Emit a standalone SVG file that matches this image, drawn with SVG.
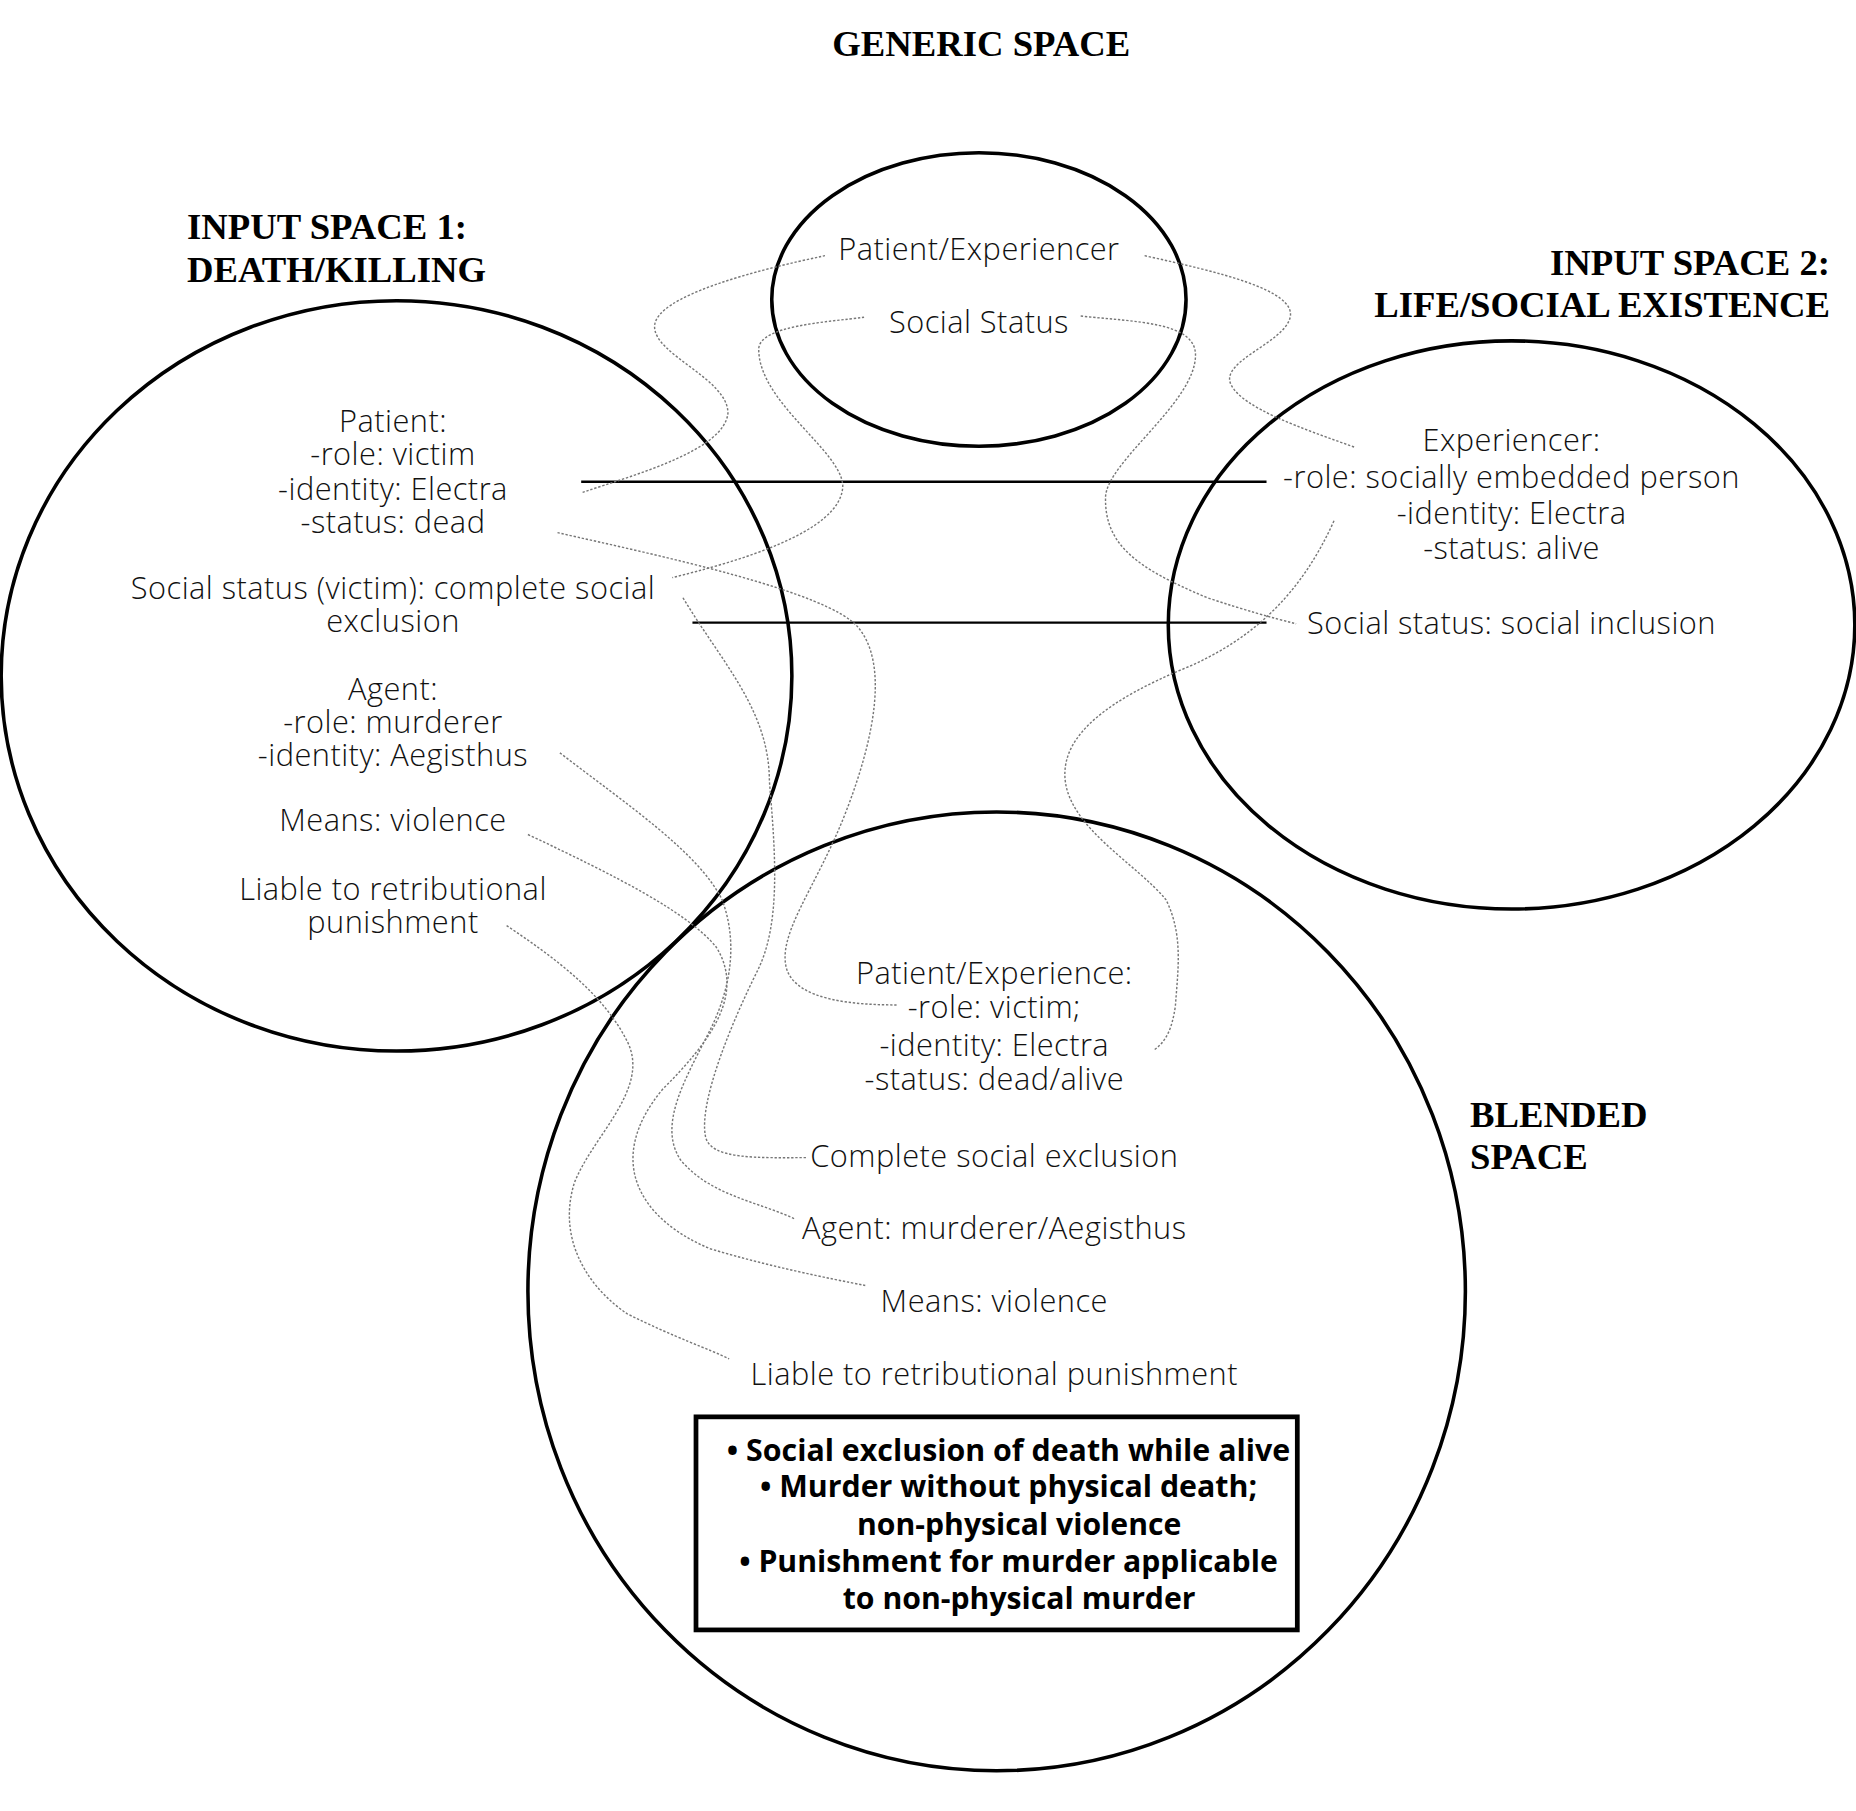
<svg xmlns="http://www.w3.org/2000/svg" width="1856" height="1811" viewBox="0 0 1856 1811">
<style>
.sp{fill:none;stroke:#000;stroke-width:3}
.t{font-family:"Open Sans","Noto Sans",sans-serif;font-weight:300;font-size:26px;letter-spacing:0.4px;fill:#111;text-anchor:middle}
.h{font-family:"Liberation Serif",serif;font-weight:bold;font-size:31px;fill:#000}
.b{font-family:"Open Sans","Noto Sans",sans-serif;font-weight:700;font-size:25px;fill:#000;text-anchor:middle}
.c{fill:none;stroke:#777;stroke-width:1.2;stroke-dasharray:2 1.5}
.l{stroke:#000;stroke-width:2}
</style>
<rect width="1856" height="1811" fill="#fff"/>
<g transform="scale(1.18367)">
<g id="generic">
<text class="h" x="829" y="47" text-anchor="middle">GENERIC SPACE</text>
<ellipse class="sp" cx="827" cy="253" rx="175" ry="124"/>
<text class="t" x="827" y="220">Patient/Experiencer</text>
<text class="t" x="827" y="281">Social Status</text>
</g>
<g id="input1">
<text class="h" x="158" y="202">INPUT SPACE 1:</text>
<text class="h" x="158" y="238">DEATH/KILLING</text>
<ellipse class="sp" cx="335" cy="571" rx="334" ry="317"/>
<text class="t" x="332" y="365">Patient:</text>
<text class="t" x="332" y="393">-role: victim</text>
<text class="t" x="332" y="422">-identity: Electra</text>
<text class="t" x="332" y="450">-status: dead</text>
<text class="t" x="332" y="506">Social status (victim): complete social</text>
<text class="t" x="332" y="534">exclusion</text>
<text class="t" x="332" y="591">Agent:</text>
<text class="t" x="332" y="619">-role: murderer</text>
<text class="t" x="332" y="647">-identity: Aegisthus</text>
<text class="t" x="332" y="702">Means: violence</text>
<text class="t" x="332" y="760">Liable to retributional</text>
<text class="t" x="332" y="788">punishment</text>
</g>
<g id="input2">
<text class="h" x="1546" y="232" text-anchor="end">INPUT SPACE 2:</text>
<text class="h" x="1546" y="268" text-anchor="end">LIFE/SOCIAL EXISTENCE</text>
<ellipse class="sp" cx="1277" cy="528" rx="290" ry="240"/>
<text class="t" x="1277" y="381">Experiencer:</text>
<text class="t" x="1277" y="412">-role: socially embedded person</text>
<text class="t" x="1277" y="443">-identity: Electra</text>
<text class="t" x="1277" y="472">-status: alive</text>
<text class="t" x="1277" y="536">Social status: social inclusion</text>
</g>
<g id="blended">
<text class="h" x="1242" y="952">BLENDED</text>
<text class="h" x="1242" y="988">SPACE</text>
<ellipse class="sp" cx="842" cy="1091" rx="396" ry="405"/>
<text class="t" x="840" y="831">Patient/Experience:</text>
<text class="t" x="840" y="860">-role: victim;</text>
<text class="t" x="840" y="892">-identity: Electra</text>
<text class="t" x="840" y="921">-status: dead/alive</text>
<text class="t" x="840" y="986">Complete social exclusion</text>
<text class="t" x="840" y="1047">Agent: murderer/Aegisthus</text>
<text class="t" x="840" y="1108">Means: violence</text>
<text class="t" x="840" y="1170">Liable to retributional punishment</text>
</g>
<g id="emergent">
<rect x="588" y="1197" width="508" height="180" fill="none" stroke="#000" stroke-width="4"/>
<text class="b" x="852" y="1234" textLength="476" lengthAdjust="spacingAndGlyphs">• Social exclusion of death while alive</text>
<text class="b" x="852" y="1265" textLength="420" lengthAdjust="spacingAndGlyphs">• Murder without physical death;</text>
<text class="b" x="861" y="1297" textLength="274" lengthAdjust="spacingAndGlyphs">non-physical violence</text>
<text class="b" x="852" y="1328" textLength="455" lengthAdjust="spacingAndGlyphs">• Punishment for murder applicable</text>
<text class="b" x="861" y="1359" textLength="298" lengthAdjust="spacingAndGlyphs">to non-physical murder</text>
</g>
<g id="connectors">
<line class="l" x1="491" y1="407" x2="1070" y2="407"/>
<line class="l" x1="585" y1="526" x2="1070" y2="526"/>
<path class="c" d="M697,216 C640,228 553,250 553,276 C553,300 615,320 615,349 C612,380 540,400 492,416"/>
<path class="c" d="M730,268 C700,272 641,275 641,295 C641,340 710,380 712,410 C712,450 620,475 568,488"/>
<path class="c" d="M967,216 C1030,230 1095,245 1090,268 C1085,290 1030,305 1040,325 C1050,345 1100,362 1145,378"/>
<path class="c" d="M913,267 C960,272 1010,272 1010,300 C1010,340 935,390 934,420 C933,460 960,480 1020,505 C1050,515 1075,522 1095,527"/>
<path class="c" d="M471,450 C560,470 700,500 725,530 C750,560 740,620 715,685 C690,750 655,790 665,820 C675,845 720,849 758,849"/>
<path class="c" d="M577,505 C610,560 650,600 650,660 C655,720 660,780 640,820 C620,860 590,930 596,960 C600,980 640,978 682,978"/>
<path class="c" d="M1127,440 C1100,500 1060,540 1000,565 C940,590 895,620 900,660 C905,700 960,730 985,760 C1000,790 995,820 993,850 C990,870 985,880 975,887"/>
<path class="c" d="M473,636 C530,680 590,720 610,760 C625,800 615,840 600,870 C580,910 555,950 575,980 C600,1010 640,1015 672,1030"/>
<path class="c" d="M446,705 C520,740 580,770 605,800 C630,840 600,880 560,920 C510,980 540,1030 600,1055 C650,1070 700,1080 731,1086"/>
<path class="c" d="M428,782 C470,810 510,840 530,880 C550,920 500,960 485,1000 C470,1050 500,1090 530,1110 C570,1130 600,1140 616,1148"/>
</g>
</g>
</svg>
